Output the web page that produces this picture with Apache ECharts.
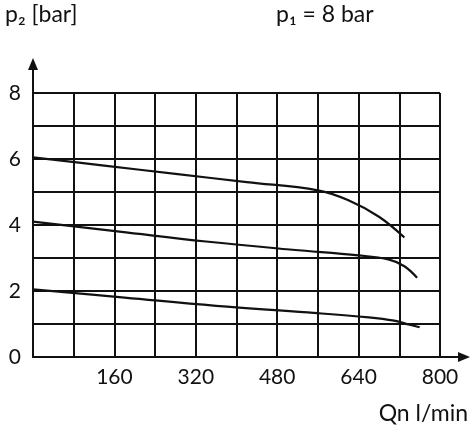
<!DOCTYPE html><html><head><meta charset="utf-8"><script src="https://cdn.jsdelivr.net/npm/echarts@6/dist/echarts.min.js"></script></head><body style="margin:0"><div id="c" style="width:474px;height:436px"></div><script>
const xTicks=[0,160,320,480,640,800];
const curve6=[[0,6.05],[140,5.8],[280,5.55],[420,5.3],[560,5.05],[620,4.75],[680,4.25],[730,3.62]];
const curve4=[[0,4.1],[170,3.8],[340,3.5],[510,3.25],[640,3.08],[700,2.95],[730,2.75],[755,2.4]];
const curve2=[[0,2.05],[180,1.8],[360,1.55],[540,1.35],[660,1.2],[710,1.1],[740,0.98],[760,0.9]];
const font='Lato, DejaVu Sans, sans-serif';
const ch=echarts.init(document.getElementById('c'));
const ln={type:'line',smooth:0.4,symbol:'none',lineStyle:{color:'#111',width:2.2},silent:true};
ch.setOption({animation:false,
grid:{left:33,right:34,top:93,bottom:79},
xAxis:{type:'value',min:0,max:800,interval:80,
 axisLine:{lineStyle:{color:'#111',width:2}},axisTick:{show:false},
 splitLine:{lineStyle:{color:'#111',width:2}},
 axisLabel:{color:'#111',fontSize:21,fontFamily:font,margin:10,formatter:v=>xTicks.includes(v)&&v>0?String(v):''}},
yAxis:{type:'value',min:0,max:8,interval:1,
 axisLine:{show:true,lineStyle:{color:'#111',width:2}},axisTick:{show:false},
 splitLine:{lineStyle:{color:'#111',width:2}},
 axisLabel:{color:'#111',fontSize:21,fontFamily:font,margin:12,formatter:v=>v%2===0?String(v):''}},
series:[Object.assign({data:curve6},ln),Object.assign({data:curve4},ln),Object.assign({data:curve2},ln)],
graphic:[
 {type:'text',left:5,top:3,style:{text:'p₂ [bar]',fontSize:23,fontFamily:font,fill:'#111'}},
 {type:'text',left:276,top:3,style:{text:'p₁ = 8 bar',fontSize:23,fontFamily:font,fill:'#111'}},
 {type:'text',right:6,top:402,style:{text:'Qn l/min',fontSize:23,fontFamily:font,fill:'#111'}},
 {type:'line',shape:{x1:440,y1:357,x2:462,y2:357},style:{stroke:'#111',lineWidth:2}},
 {type:'polygon',shape:{points:[[470,357],[458,352],[458,362]]},style:{fill:'#111'}},
 {type:'line',shape:{x1:33,y1:93,x2:33,y2:66},style:{stroke:'#111',lineWidth:2}},
 {type:'polygon',shape:{points:[[33,58],[28,70],[38,70]]},style:{fill:'#111'}}
]});
</script></body></html>
